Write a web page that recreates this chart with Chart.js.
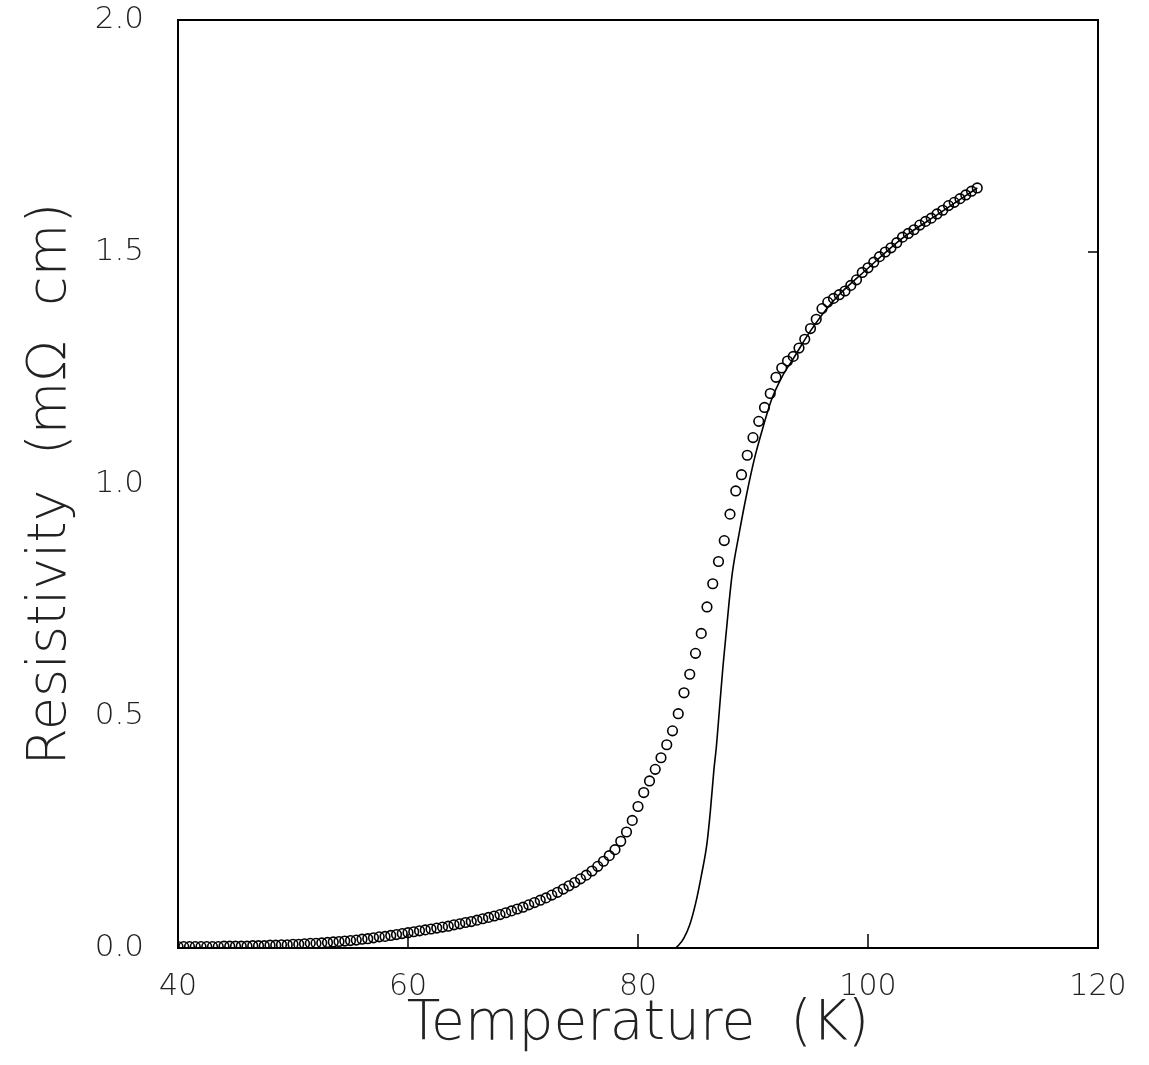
<!DOCTYPE html>
<html>
<head>
<meta charset="utf-8">
<script src="https://cdn.jsdelivr.net/npm/chart.js@4.4.1/dist/chart.umd.min.js"></script>
<style>
  body { margin: 0; background: #fff; }
  #wrap { width: 1149px; height: 1065px; position: relative; }
</style>
</head>
<body>
<div id="wrap"><canvas id="rho-chart"></canvas></div>
<script>
// measured points (open circles)
const circleTemps = [
  40.0, 40.5, 41.0, 41.5, 42.0, 42.5, 43.0, 43.5, 44.0, 44.5, 45.0, 45.5, 46.0, 46.5, 47.0, 47.5,
  48.0, 48.5, 49.0, 49.5, 50.0, 50.5, 51.0, 51.5, 52.0, 52.5, 53.0, 53.5, 54.0, 54.5, 55.0, 55.5,
  56.0, 56.5, 57.0, 57.5, 58.0, 58.5, 59.0, 59.5, 60.0, 60.5, 61.0, 61.5, 62.0, 62.5, 63.0, 63.5,
  64.0, 64.5, 65.0, 65.5, 66.0, 66.5, 67.0, 67.5, 68.0, 68.5, 69.0, 69.5, 70.0, 70.5, 71.0, 71.5,
  72.0, 72.5, 73.0, 73.5, 74.0, 74.5, 75.0, 75.5, 76.0, 76.5, 77.0, 77.5, 78.0, 78.5, 79.0, 79.5,
  80.0, 80.5, 81.0, 81.5, 82.0, 82.5, 83.0, 83.5, 84.0, 84.5, 85.0, 85.5, 86.0, 86.5, 87.0, 87.5,
  88.0, 88.5, 89.0, 89.5, 90.0, 90.5, 91.0, 91.5, 92.0, 92.5, 93.0, 93.5, 94.0, 94.5, 95.0, 95.5,
  96.0, 96.5, 97.0, 97.5, 98.0, 98.5, 99.0, 99.5, 100.0, 100.5, 101.0, 101.5, 102.0, 102.5, 103.0, 103.5,
  104.0, 104.5, 105.0, 105.5, 106.0, 106.5, 107.0, 107.5, 108.0, 108.5, 109.0, 109.5
];
const circleRho = [
  0.003, 0.003, 0.003, 0.003, 0.003, 0.003, 0.003, 0.003, 0.004, 0.004, 0.004, 0.004, 0.004, 0.005, 0.005, 0.005,
  0.006, 0.006, 0.007, 0.007, 0.008, 0.008, 0.009, 0.010, 0.010, 0.011, 0.012, 0.013, 0.014, 0.015, 0.016, 0.017,
  0.019, 0.020, 0.022, 0.024, 0.025, 0.027, 0.029, 0.031, 0.033, 0.035, 0.037, 0.039, 0.041, 0.043, 0.045, 0.047,
  0.050, 0.052, 0.055, 0.057, 0.060, 0.063, 0.066, 0.069, 0.072, 0.076, 0.080, 0.084, 0.088, 0.093, 0.098, 0.103,
  0.108, 0.114, 0.120, 0.127, 0.134, 0.141, 0.149, 0.157, 0.166, 0.176, 0.187, 0.199, 0.212, 0.230, 0.250, 0.275,
  0.305, 0.335, 0.360, 0.385, 0.410, 0.438, 0.468, 0.505, 0.550, 0.590, 0.635, 0.678, 0.735, 0.785, 0.833, 0.878,
  0.935, 0.985, 1.020, 1.062, 1.100, 1.135, 1.165, 1.195, 1.230, 1.250, 1.265, 1.275, 1.293, 1.312, 1.335, 1.355,
  1.378, 1.392, 1.400, 1.408, 1.416, 1.428, 1.440, 1.456, 1.466, 1.478, 1.490, 1.500, 1.509, 1.520, 1.532, 1.540,
  1.548, 1.558, 1.566, 1.573, 1.582, 1.590, 1.600, 1.607, 1.615, 1.623, 1.631, 1.638
];

// solid curve
const lineTemps = [40, 50, 60, 70, 80, 83.2, 83.6, 84.0, 84.5, 85.0, 85.5, 86.0, 86.3, 86.6, 86.8, 87.1, 87.4, 87.9,
  88.2, 88.8, 89.4, 90.1, 90.8, 91.6, 92.5, 93.5, 95.0, 97.0, 100.0, 103.0, 106.0, 109.5];
const lineRho = [0, 0, 0, 0, 0, 0, 0.008, 0.022, 0.050, 0.095, 0.155, 0.226, 0.297, 0.384, 0.430, 0.520, 0.610, 0.740,
  0.808, 0.894, 0.972, 1.052, 1.116, 1.181, 1.230, 1.270, 1.330, 1.395, 1.465, 1.530, 1.580, 1.638];

const xTicks = [40, 60, 80, 100, 120];
const yTicks = ['0.0', '0.5', '1.0', '1.5', '2.0'];

const inkColor = '#222';
const fontFamily = "'DejaVu Sans', 'Liberation Sans', sans-serif";

// box round the plot + small inward ticks
const frame = {
  id: 'frame',
  afterDraw(chart) {
    const { ctx, chartArea: a, scales } = chart;
    ctx.save();
    ctx.strokeStyle = '#000';
    ctx.lineWidth = 2;
    ctx.strokeRect(a.left, a.top, a.right - a.left, a.bottom - a.top);
    ctx.lineWidth = 1.5;
    ctx.beginPath();
    xTicks.slice(1, -1).forEach(t => {
      const px = scales.x.getPixelForValue(t);
      ctx.moveTo(px, a.bottom);
      ctx.lineTo(px, a.bottom - 14);
    });
    const py = scales.y.getPixelForValue(1.5);
    ctx.moveTo(a.right, py);
    ctx.lineTo(a.right - 10, py);
    ctx.stroke();
    ctx.restore();
  }
};

const ctx = document.getElementById('rho-chart').getContext('2d');

new Chart(ctx, {
  type: 'scatter',
  data: {
    datasets: [
      {
        label: 'fit',
        data: lineTemps.map((t, i) => ({ x: t, y: lineRho[i] })),
        showLine: true,
        borderColor: '#000',
        borderWidth: 1.6,
        pointRadius: 0,
        cubicInterpolationMode: 'monotone',
        fill: false,
      },
      {
        label: 'data',
        data: circleTemps.map((t, i) => ({ x: t, y: circleRho[i] })),
        showLine: false,
        pointStyle: 'circle',
        pointRadius: 4.8,
        pointBorderWidth: 1.6,
        pointBorderColor: '#000',
        pointBackgroundColor: 'rgba(0,0,0,0)',
      }
    ]
  },
  options: {
    responsive: true,
    maintainAspectRatio: false,
    animation: false,
    layout: { padding: { left: 0, top: 20, right: 51, bottom: 0 } },
    plugins: {
      legend: { display: false },
      tooltip: { enabled: false },
    },
    scales: {
      x: {
        type: 'linear',
        min: 40,
        max: 120,
        afterBuildTicks: scale => { scale.ticks = xTicks.map(v => ({ value: v })); },
        afterFit: scale => { scale.height = 117; scale.paddingLeft = 0; scale.paddingRight = 0; },
        grid: { display: false, drawTicks: false },
        border: { display: false },
        ticks: {
          padding: 21,
          color: inkColor,
          font: { family: fontFamily, size: 30, weight: 200 },
          callback: value => String(value),
          maxRotation: 0,
        },
        title: {
          display: true,
          text: 'Temperature  (K)',
          color: inkColor,
          font: { family: fontFamily, size: 55, weight: 200 },
          padding: { top: 0, bottom: 7 },
        },
      },
      y: {
        type: 'linear',
        min: 0,
        max: 2,
        afterBuildTicks: scale => { scale.ticks = yTicks.map(v => ({ value: parseFloat(v) })); },
        afterFit: scale => { scale.width = 178; scale.paddingTop = 0; scale.paddingBottom = 0; },
        grid: { display: false, drawTicks: false },
        border: { display: false },
        ticks: {
          padding: 34,
          color: inkColor,
          font: { family: fontFamily, size: 31, weight: 200 },
          callback: (value, i) => yTicks[i],
        },
        title: {
          display: true,
          text: 'Resistivity  (mΩ  cm)',
          color: inkColor,
          font: { family: fontFamily, size: 54, weight: 200 },
          padding: { top: 19, bottom: 0 },
        },
      },
    },
  },
  plugins: [frame],
});
</script>
</body>
</html>
